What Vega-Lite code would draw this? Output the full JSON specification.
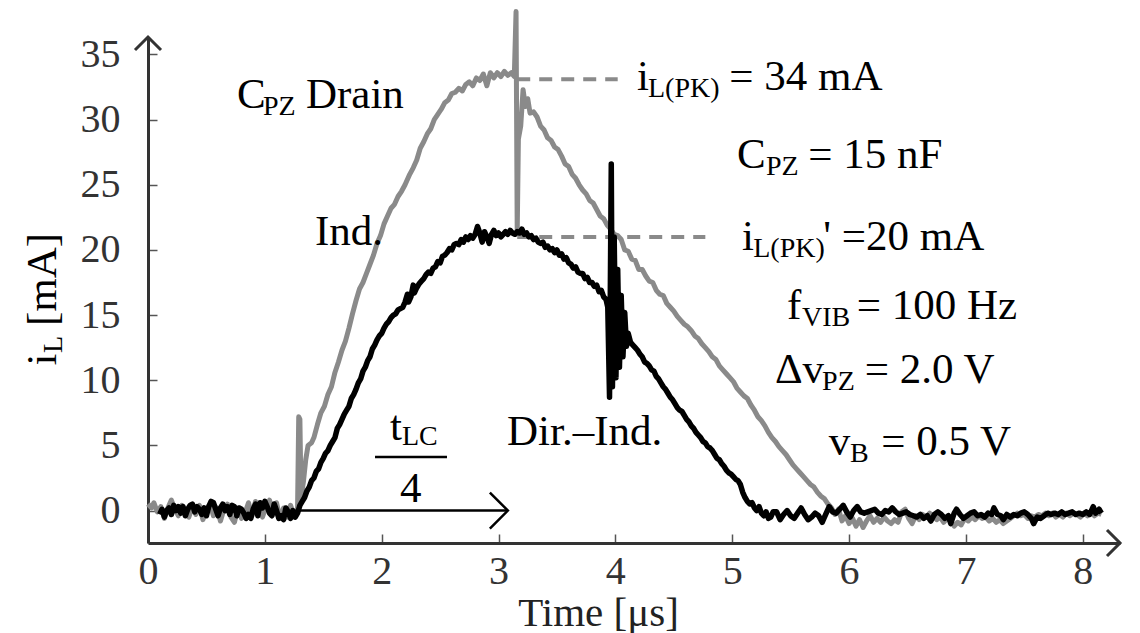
{
  "$schema": "https://vega.github.io/schema/vega-lite/v6.json",
  "width": 972,
  "height": 506,
  "autosize": {"type": "none"},
  "padding": {"left": 148, "top": 37, "right": 20, "bottom": 90},
  "background": "white",
  "config": {"view": {"stroke": null}, "font": "Liberation Serif"},
  "datasets": {
    "ind": [
      {"t":0.00,"v":0.5},{"t":0.03,"v":0.2},{"t":0.05,"v":0.6},{"t":0.08,"v":-0.1},{"t":0.11,"v":0.3},{"t":0.14,"v":-0.6},{"t":0.17,"v":0.2},{"t":0.20,"v":0.8},{"t":0.23,"v":0.1},{"t":0.26,"v":-0.4},{"t":0.29,"v":0.4},{"t":0.32,"v":-0.1},{"t":0.35,"v":-0.5},{"t":0.38,"v":0.3},{"t":0.41,"v":-0.3},{"t":0.44,"v":0.4},{"t":0.47,"v":-0.7},{"t":0.50,"v":0.1},{"t":0.53,"v":0.5},{"t":0.56,"v":-0.4},{"t":0.59,"v":0.2},{"t":0.62,"v":-0.8},{"t":0.65,"v":0.1},{"t":0.68,"v":0.5},{"t":0.71,"v":-0.5},{"t":0.74,"v":-0.9},{"t":0.77,"v":0.2},{"t":0.80,"v":-0.6},{"t":0.83,"v":-0.2},{"t":0.86,"v":0.6},{"t":0.89,"v":-0.4},{"t":0.92,"v":0.7},{"t":0.95,"v":0.0},{"t":0.98,"v":-0.5},{"t":1.01,"v":0.3},{"t":1.04,"v":0.8},{"t":1.07,"v":-0.3},{"t":1.10,"v":0.6},{"t":1.13,"v":-0.6},{"t":1.16,"v":0.2},{"t":1.19,"v":-0.5},{"t":1.22,"v":0.4},{"t":1.25,"v":-0.4},{"t":1.28,"v":0.2},{"t":1.29,"v":7.2},{"t":1.30,"v":7.0},{"t":1.31,"v":1.0},{"t":1.33,"v":2.2},{"t":1.35,"v":3.9},{"t":1.37,"v":5.0},{"t":1.40,"v":5.2},{"t":1.42,"v":5.6},{"t":1.45,"v":6.6},{"t":1.48,"v":7.5},{"t":1.51,"v":8.0},{"t":1.54,"v":8.9},{"t":1.57,"v":9.5},{"t":1.60,"v":10.6},{"t":1.63,"v":11.4},{"t":1.66,"v":12.3},{"t":1.69,"v":13.0},{"t":1.72,"v":14.0},{"t":1.75,"v":15.1},{"t":1.78,"v":16.1},{"t":1.81,"v":17.0},{"t":1.84,"v":17.5},{"t":1.87,"v":18.2},{"t":1.90,"v":18.9},{"t":1.93,"v":19.6},{"t":1.96,"v":20.5},{"t":1.99,"v":21.1},{"t":2.02,"v":22.0},{"t":2.05,"v":22.6},{"t":2.08,"v":23.2},{"t":2.11,"v":23.5},{"t":2.14,"v":24.1},{"t":2.17,"v":24.5},{"t":2.20,"v":25.0},{"t":2.24,"v":25.8},{"t":2.27,"v":26.3},{"t":2.30,"v":26.9},{"t":2.33,"v":27.8},{"t":2.36,"v":28.3},{"t":2.39,"v":28.9},{"t":2.42,"v":29.3},{"t":2.45,"v":30.0},{"t":2.48,"v":30.4},{"t":2.51,"v":30.8},{"t":2.54,"v":31.3},{"t":2.57,"v":31.5},{"t":2.60,"v":32.0},{"t":2.63,"v":32.1},{"t":2.66,"v":32.4},{"t":2.69,"v":32.2},{"t":2.72,"v":32.7},{"t":2.75,"v":32.9},{"t":2.78,"v":32.6},{"t":2.81,"v":33.2},{"t":2.84,"v":33.0},{"t":2.87,"v":33.5},{"t":2.90,"v":32.6},{"t":2.93,"v":33.6},{"t":2.96,"v":33.2},{"t":2.99,"v":33.6},{"t":3.02,"v":33.3},{"t":3.05,"v":33.7},{"t":3.08,"v":33.4},{"t":3.11,"v":33.6},{"t":3.135,"v":33.3},{"t":3.15,"v":38.3},{"t":3.16,"v":21.4},{"t":3.17,"v":28.5},{"t":3.19,"v":29.5},{"t":3.21,"v":32.3},{"t":3.23,"v":31.0},{"t":3.25,"v":31.6},{"t":3.27,"v":30.5},{"t":3.30,"v":30.6},{"t":3.33,"v":30.2},{"t":3.36,"v":29.5},{"t":3.39,"v":29.2},{"t":3.42,"v":28.6},{"t":3.45,"v":28.4},{"t":3.48,"v":27.9},{"t":3.51,"v":27.7},{"t":3.54,"v":27.2},{"t":3.57,"v":26.6},{"t":3.60,"v":26.4},{"t":3.63,"v":25.8},{"t":3.66,"v":25.5},{"t":3.69,"v":25.0},{"t":3.72,"v":24.6},{"t":3.75,"v":24.3},{"t":3.78,"v":23.8},{"t":3.81,"v":23.6},{"t":3.84,"v":23.1},{"t":3.87,"v":22.6},{"t":3.90,"v":22.4},{"t":3.93,"v":21.9},{"t":3.96,"v":21.6},{"t":3.99,"v":21.2},{"t":4.02,"v":21.1},{"t":4.05,"v":20.8},{"t":4.08,"v":20.0},{"t":4.11,"v":19.9},{"t":4.14,"v":19.3},{"t":4.17,"v":19.2},{"t":4.20,"v":18.5},{"t":4.23,"v":18.5},{"t":4.26,"v":18.0},{"t":4.29,"v":17.6},{"t":4.32,"v":17.5},{"t":4.35,"v":16.9},{"t":4.38,"v":16.6},{"t":4.41,"v":16.5},{"t":4.44,"v":15.9},{"t":4.47,"v":15.6},{"t":4.50,"v":15.3},{"t":4.53,"v":14.9},{"t":4.56,"v":14.6},{"t":4.59,"v":14.3},{"t":4.62,"v":14.1},{"t":4.65,"v":13.8},{"t":4.68,"v":13.4},{"t":4.71,"v":13.2},{"t":4.74,"v":12.8},{"t":4.77,"v":12.5},{"t":4.80,"v":12.2},{"t":4.83,"v":11.8},{"t":4.86,"v":11.6},{"t":4.89,"v":11.1},{"t":4.92,"v":10.8},{"t":4.95,"v":10.5},{"t":4.98,"v":10.2},{"t":5.01,"v":9.9},{"t":5.04,"v":9.4},{"t":5.07,"v":9.1},{"t":5.10,"v":8.8},{"t":5.13,"v":8.6},{"t":5.16,"v":8.1},{"t":5.19,"v":7.7},{"t":5.22,"v":7.2},{"t":5.25,"v":6.9},{"t":5.28,"v":6.5},{"t":5.31,"v":6.0},{"t":5.34,"v":5.6},{"t":5.37,"v":5.3},{"t":5.40,"v":4.9},{"t":5.43,"v":4.6},{"t":5.46,"v":4.3},{"t":5.49,"v":3.9},{"t":5.52,"v":3.5},{"t":5.55,"v":3.2},{"t":5.58,"v":2.9},{"t":5.61,"v":2.6},{"t":5.64,"v":2.3},{"t":5.67,"v":2.0},{"t":5.70,"v":1.8},{"t":5.73,"v":1.4},{"t":5.76,"v":1.1},{"t":5.79,"v":0.9},{"t":5.82,"v":0.5},{"t":5.85,"v":0.2},{"t":5.88,"v":-0.3},{"t":5.91,"v":0.1},{"t":5.94,"v":-0.8},{"t":5.97,"v":-0.4},{"t":6.00,"v":-1.0},{"t":6.03,"v":-0.6},{"t":6.06,"v":-1.2},{"t":6.09,"v":-0.7},{"t":6.12,"v":-1.3},{"t":6.15,"v":-0.8},{"t":6.18,"v":-0.4},{"t":6.21,"v":-0.9},{"t":6.24,"v":-0.6},{"t":6.27,"v":-0.9},{"t":6.30,"v":-0.5},{"t":6.33,"v":-0.8},{"t":6.36,"v":-1.0},{"t":6.39,"v":-0.7},{"t":6.42,"v":-0.9},{"t":6.45,"v":-0.1},{"t":6.48,"v":0.1},{"t":6.51,"v":-0.6},{"t":6.54,"v":-1.0},{"t":6.57,"v":-0.4},{"t":6.60,"v":-0.7},{"t":6.63,"v":-0.3},{"t":6.66,"v":-0.5},{"t":6.69,"v":-0.2},{"t":6.72,"v":-0.4},{"t":6.75,"v":-0.7},{"t":6.78,"v":-0.5},{"t":6.81,"v":-0.9},{"t":6.84,"v":-0.6},{"t":6.87,"v":-0.8},{"t":6.90,"v":-1.2},{"t":6.93,"v":-0.9},{"t":6.96,"v":-1.1},{"t":6.99,"v":-0.6},{"t":7.02,"v":-0.8},{"t":7.05,"v":-0.5},{"t":7.08,"v":-0.7},{"t":7.11,"v":-0.4},{"t":7.14,"v":-0.6},{"t":7.17,"v":-0.5},{"t":7.20,"v":-0.8},{"t":7.23,"v":-0.6},{"t":7.26,"v":-0.9},{"t":7.29,"v":-0.7},{"t":7.32,"v":-1.0},{"t":7.35,"v":-0.8},{"t":7.38,"v":-0.6},{"t":7.41,"v":-0.4},{"t":7.44,"v":-0.2},{"t":7.47,"v":-0.4},{"t":7.50,"v":-0.3},{"t":7.53,"v":-0.6},{"t":7.56,"v":-0.4},{"t":7.59,"v":-0.5},{"t":7.62,"v":-0.3},{"t":7.65,"v":-0.4},{"t":7.68,"v":-0.2},{"t":7.71,"v":-0.4},{"t":7.74,"v":-0.2},{"t":7.77,"v":-0.5},{"t":7.80,"v":-0.3},{"t":7.83,"v":-0.5},{"t":7.86,"v":-0.2},{"t":7.89,"v":-0.4},{"t":7.92,"v":-0.2},{"t":7.95,"v":-0.3},{"t":7.98,"v":-0.5},{"t":8.01,"v":-0.2},{"t":8.04,"v":-0.4},{"t":8.07,"v":-0.1},{"t":8.10,"v":-0.4},{"t":8.13,"v":-0.2},{"t":8.16,"v":-0.3}
    ],
    "dir": [
      {"t":0.10,"v":-0.3},{"t":0.12,"v":0.1},{"t":0.14,"v":-0.5},{"t":0.16,"v":0.0},{"t":0.18,"v":0.2},{"t":0.20,"v":-0.3},{"t":0.22,"v":0.4},{"t":0.24,"v":0.0},{"t":0.26,"v":0.3},{"t":0.28,"v":-0.2},{"t":0.30,"v":0.3},{"t":0.32,"v":-0.4},{"t":0.34,"v":0.1},{"t":0.36,"v":0.4},{"t":0.38,"v":0.5},{"t":0.40,"v":-0.1},{"t":0.42,"v":0.3},{"t":0.44,"v":0.1},{"t":0.46,"v":-0.3},{"t":0.48,"v":0.2},{"t":0.50,"v":-0.4},{"t":0.52,"v":0.3},{"t":0.54,"v":0.7},{"t":0.56,"v":0.6},{"t":0.58,"v":0.1},{"t":0.60,"v":-0.4},{"t":0.62,"v":0.2},{"t":0.64,"v":0.5},{"t":0.66,"v":0.0},{"t":0.68,"v":0.3},{"t":0.70,"v":-0.3},{"t":0.72,"v":0.4},{"t":0.74,"v":0.3},{"t":0.76,"v":-0.4},{"t":0.78,"v":0.2},{"t":0.80,"v":0.1},{"t":0.82,"v":-0.2},{"t":0.84,"v":-0.6},{"t":0.86,"v":-0.3},{"t":0.88,"v":-0.6},{"t":0.90,"v":0.1},{"t":0.92,"v":0.5},{"t":0.94,"v":-0.4},{"t":0.96,"v":0.6},{"t":0.98,"v":0.2},{"t":1.00,"v":0.7},{"t":1.02,"v":0.3},{"t":1.04,"v":-0.2},{"t":1.06,"v":-0.4},{"t":1.08,"v":0.5},{"t":1.10,"v":0.0},{"t":1.12,"v":-0.6},{"t":1.14,"v":-0.4},{"t":1.16,"v":-0.7},{"t":1.18,"v":0.2},{"t":1.20,"v":-0.1},{"t":1.22,"v":-0.6},{"t":1.24,"v":0.0},{"t":1.26,"v":-0.5},{"t":1.28,"v":-0.2},{"t":1.30,"v":0.4},{"t":1.32,"v":0.7},{"t":1.34,"v":1.0},{"t":1.36,"v":1.5},{"t":1.38,"v":1.8},{"t":1.40,"v":2.3},{"t":1.42,"v":2.5},{"t":1.44,"v":3.0},{"t":1.46,"v":3.2},{"t":1.48,"v":3.7},{"t":1.50,"v":4.0},{"t":1.52,"v":4.4},{"t":1.54,"v":4.6},{"t":1.56,"v":5.0},{"t":1.58,"v":5.3},{"t":1.60,"v":5.6},{"t":1.62,"v":6.3},{"t":1.64,"v":6.6},{"t":1.66,"v":7.0},{"t":1.68,"v":7.4},{"t":1.70,"v":7.7},{"t":1.72,"v":8.0},{"t":1.74,"v":8.6},{"t":1.76,"v":8.9},{"t":1.78,"v":9.3},{"t":1.80,"v":9.8},{"t":1.82,"v":10.1},{"t":1.84,"v":10.7},{"t":1.86,"v":11.0},{"t":1.88,"v":11.5},{"t":1.90,"v":11.8},{"t":1.92,"v":12.4},{"t":1.94,"v":12.7},{"t":1.96,"v":13.1},{"t":1.98,"v":13.4},{"t":2.00,"v":13.6},{"t":2.02,"v":14.0},{"t":2.04,"v":14.3},{"t":2.06,"v":14.5},{"t":2.08,"v":14.8},{"t":2.10,"v":15.0},{"t":2.12,"v":15.1},{"t":2.14,"v":15.4},{"t":2.16,"v":15.5},{"t":2.18,"v":15.6},{"t":2.20,"v":16.0},{"t":2.22,"v":16.6},{"t":2.23,"v":16.0},{"t":2.25,"v":16.4},{"t":2.27,"v":17.3},{"t":2.28,"v":16.7},{"t":2.30,"v":17.1},{"t":2.32,"v":17.4},{"t":2.34,"v":17.6},{"t":2.36,"v":17.8},{"t":2.38,"v":18.1},{"t":2.40,"v":18.3},{"t":2.42,"v":18.2},{"t":2.44,"v":18.6},{"t":2.46,"v":18.7},{"t":2.48,"v":19.1},{"t":2.50,"v":19.0},{"t":2.52,"v":19.5},{"t":2.54,"v":19.6},{"t":2.56,"v":19.8},{"t":2.58,"v":20.1},{"t":2.60,"v":20.0},{"t":2.62,"v":20.4},{"t":2.64,"v":20.5},{"t":2.66,"v":20.4},{"t":2.68,"v":20.8},{"t":2.70,"v":20.6},{"t":2.72,"v":21.0},{"t":2.74,"v":20.8},{"t":2.76,"v":21.1},{"t":2.78,"v":20.9},{"t":2.80,"v":21.2},{"t":2.82,"v":21.8},{"t":2.84,"v":21.3},{"t":2.86,"v":20.6},{"t":2.88,"v":21.4},{"t":2.90,"v":21.0},{"t":2.92,"v":20.5},{"t":2.94,"v":21.2},{"t":2.96,"v":21.5},{"t":2.98,"v":21.1},{"t":3.00,"v":21.3},{"t":3.02,"v":21.0},{"t":3.04,"v":21.2},{"t":3.06,"v":21.4},{"t":3.08,"v":21.2},{"t":3.10,"v":21.5},{"t":3.12,"v":21.3},{"t":3.14,"v":21.2},{"t":3.16,"v":21.4},{"t":3.18,"v":21.3},{"t":3.20,"v":21.6},{"t":3.22,"v":21.2},{"t":3.24,"v":21.3},{"t":3.26,"v":21.0},{"t":3.28,"v":21.1},{"t":3.30,"v":20.8},{"t":3.32,"v":20.9},{"t":3.34,"v":20.6},{"t":3.36,"v":20.5},{"t":3.38,"v":20.6},{"t":3.40,"v":20.2},{"t":3.42,"v":20.3},{"t":3.44,"v":20.0},{"t":3.46,"v":20.1},{"t":3.48,"v":19.8},{"t":3.50,"v":20.0},{"t":3.52,"v":19.6},{"t":3.54,"v":19.7},{"t":3.56,"v":19.3},{"t":3.58,"v":19.4},{"t":3.60,"v":19.0},{"t":3.62,"v":18.9},{"t":3.64,"v":18.6},{"t":3.66,"v":18.7},{"t":3.68,"v":18.3},{"t":3.70,"v":18.2},{"t":3.72,"v":18.2},{"t":3.74,"v":17.8},{"t":3.76,"v":17.9},{"t":3.78,"v":17.5},{"t":3.80,"v":17.5},{"t":3.82,"v":17.2},{"t":3.84,"v":17.3},{"t":3.86,"v":16.8},{"t":3.88,"v":16.9},{"t":3.90,"v":16.4},{"t":3.92,"v":16.2},{"t":3.935,"v":15.6},{"t":3.95,"v":8.7},{"t":3.965,"v":26.6},{"t":3.975,"v":9.5},{"t":3.99,"v":21.0},{"t":4.005,"v":10.2},{"t":4.02,"v":18.5},{"t":4.035,"v":11.0},{"t":4.05,"v":16.5},{"t":4.065,"v":11.8},{"t":4.08,"v":15.2},{"t":4.095,"v":12.6},{"t":4.11,"v":13.6},{"t":4.13,"v":12.9},{"t":4.15,"v":12.7},{"t":4.17,"v":12.5},{"t":4.19,"v":12.3},{"t":4.21,"v":12.0},{"t":4.23,"v":11.8},{"t":4.25,"v":11.4},{"t":4.27,"v":11.3},{"t":4.29,"v":11.1},{"t":4.31,"v":10.8},{"t":4.33,"v":10.7},{"t":4.35,"v":10.3},{"t":4.37,"v":10.1},{"t":4.39,"v":9.8},{"t":4.41,"v":9.5},{"t":4.43,"v":9.3},{"t":4.45,"v":9.0},{"t":4.47,"v":8.7},{"t":4.49,"v":8.5},{"t":4.51,"v":8.2},{"t":4.53,"v":7.9},{"t":4.55,"v":7.7},{"t":4.57,"v":7.6},{"t":4.59,"v":7.3},{"t":4.61,"v":7.0},{"t":4.63,"v":6.8},{"t":4.65,"v":6.5},{"t":4.67,"v":6.3},{"t":4.69,"v":6.0},{"t":4.71,"v":5.8},{"t":4.73,"v":5.6},{"t":4.75,"v":5.3},{"t":4.77,"v":5.2},{"t":4.79,"v":4.9},{"t":4.81,"v":4.8},{"t":4.83,"v":4.6},{"t":4.85,"v":4.3},{"t":4.87,"v":4.0},{"t":4.89,"v":3.9},{"t":4.91,"v":3.6},{"t":4.93,"v":3.4},{"t":4.95,"v":3.1},{"t":4.97,"v":2.9},{"t":4.99,"v":2.8},{"t":5.01,"v":2.6},{"t":5.03,"v":2.4},{"t":5.05,"v":2.3},{"t":5.07,"v":2.0},{"t":5.09,"v":1.4},{"t":5.11,"v":1.0},{"t":5.13,"v":0.7},{"t":5.15,"v":0.5},{"t":5.17,"v":0.6},{"t":5.19,"v":0.2},{"t":5.21,"v":0.0},{"t":5.23,"v":0.3},{"t":5.25,"v":-0.2},{"t":5.27,"v":-0.4},{"t":5.29,"v":-0.1},{"t":5.31,"v":-0.6},{"t":5.33,"v":-0.5},{"t":5.35,"v":-0.1},{"t":5.38,"v":-0.1},{"t":5.41,"v":-0.7},{"t":5.44,"v":-0.3},{"t":5.47,"v":0.0},{"t":5.50,"v":-0.4},{"t":5.53,"v":-0.6},{"t":5.56,"v":-0.2},{"t":5.59,"v":0.2},{"t":5.62,"v":-0.3},{"t":5.65,"v":-0.7},{"t":5.68,"v":-0.5},{"t":5.71,"v":-0.2},{"t":5.74,"v":-0.4},{"t":5.77,"v":-0.9},{"t":5.80,"v":-0.3},{"t":5.83,"v":0.3},{"t":5.86,"v":-0.1},{"t":5.89,"v":-0.2},{"t":5.92,"v":0.1},{"t":5.95,"v":0.4},{"t":5.98,"v":-0.1},{"t":6.01,"v":-0.5},{"t":6.04,"v":0.0},{"t":6.07,"v":0.3},{"t":6.10,"v":-0.1},{"t":6.13,"v":-0.2},{"t":6.16,"v":-0.1},{"t":6.19,"v":0.0},{"t":6.22,"v":0.1},{"t":6.25,"v":-0.2},{"t":6.28,"v":-0.3},{"t":6.31,"v":0.0},{"t":6.34,"v":-0.1},{"t":6.37,"v":0.2},{"t":6.40,"v":-0.1},{"t":6.43,"v":-0.3},{"t":6.46,"v":-0.2},{"t":6.49,"v":-0.1},{"t":6.52,"v":-0.3},{"t":6.55,"v":-0.4},{"t":6.58,"v":-0.5},{"t":6.61,"v":-0.3},{"t":6.64,"v":-0.6},{"t":6.67,"v":-0.4},{"t":6.70,"v":-0.8},{"t":6.73,"v":-0.3},{"t":6.76,"v":-0.1},{"t":6.79,"v":-0.3},{"t":6.82,"v":-0.6},{"t":6.85,"v":-0.4},{"t":6.87,"v":-1.0},{"t":6.90,"v":-0.2},{"t":6.92,"v":0.1},{"t":6.95,"v":-0.3},{"t":6.98,"v":-0.6},{"t":7.01,"v":-0.4},{"t":7.04,"v":-0.2},{"t":7.07,"v":-0.1},{"t":7.10,"v":-0.4},{"t":7.13,"v":-0.3},{"t":7.16,"v":-0.5},{"t":7.19,"v":-0.2},{"t":7.22,"v":-0.3},{"t":7.24,"v":0.2},{"t":7.27,"v":-0.3},{"t":7.30,"v":-0.4},{"t":7.32,"v":-0.7},{"t":7.35,"v":-0.3},{"t":7.38,"v":-0.5},{"t":7.41,"v":-0.3},{"t":7.44,"v":-0.4},{"t":7.47,"v":-0.2},{"t":7.50,"v":-0.1},{"t":7.53,"v":-0.3},{"t":7.56,"v":-0.6},{"t":7.58,"v":-1.0},{"t":7.61,"v":-0.5},{"t":7.64,"v":-0.6},{"t":7.67,"v":-0.4},{"t":7.70,"v":-0.2},{"t":7.73,"v":-0.3},{"t":7.76,"v":-0.2},{"t":7.79,"v":-0.3},{"t":7.82,"v":-0.1},{"t":7.85,"v":-0.3},{"t":7.88,"v":-0.2},{"t":7.91,"v":-0.1},{"t":7.94,"v":-0.3},{"t":7.97,"v":-0.2},{"t":8.00,"v":-0.3},{"t":8.03,"v":-0.1},{"t":8.06,"v":-0.3},{"t":8.09,"v":0.3},{"t":8.11,"v":-0.2},{"t":8.14,"v":0.1},{"t":8.16,"v":-0.2}
    ],
    "dashes": [
      {"t":3.16,"t2":4.02,"v":33.1},
      {"t":3.16,"t2":4.77,"v":21.0}
    ],
    "tlcArrow": [{"t":1.30,"t2":3.08,"v":0.0}],
    "tlcHead": [{"t":3.08,"v":0.0}],
    "fracBar": [{"t":1.943,"t2":2.559,"v":4.106}],
    "xEnd": [{"t":8.319,"v":-2.49}],
    "yEnd": [{"t":0,"v":36.34}],
    "mainText": [
      {"t":0.762,"v":30.89,"label":"C"},
      {"t":1.352,"v":30.89,"label":"Drain"},
      {"t":1.429,"v":20.38,"label":"Ind."},
      {"t":3.073,"v":5.03,"label":"Dir.–Ind."},
      {"t":4.185,"v":32.27,"label":"i"},
      {"t":4.975,"v":32.27,"label":"= 34 mA"},
      {"t":5.041,"v":26.28,"label":"C"},
      {"t":5.650,"v":26.28,"label":"= 15 nF"},
      {"t":5.084,"v":19.99,"label":"i"},
      {"t":5.780,"v":19.99,"label":"' =20 mA"},
      {"t":5.469,"v":14.70,"label":"f"},
      {"t":6.065,"v":14.70,"label":"= 100 Hz"},
      {"t":5.366,"v":9.79,"label":"Δv"},
      {"t":6.135,"v":9.79,"label":"= 2.0 V"},
      {"t":5.827,"v":4.26,"label":"v"},
      {"t":6.275,"v":4.26,"label":"= 0.5 V"},
      {"t":2.071,"v":5.41,"label":"t"},
      {"t":2.157,"v":0.65,"label":"4"}
    ],
    "subText": [
      {"t":0.984,"v":30.35,"label":"PZ"},
      {"t":4.279,"v":31.74,"label":"L(PK)"},
      {"t":5.289,"v":25.75,"label":"PZ"},
      {"t":5.180,"v":19.46,"label":"L(PK)"},
      {"t":5.597,"v":14.16,"label":"VIB"},
      {"t":5.769,"v":9.25,"label":"PZ"},
      {"t":6.008,"v":3.72,"label":"B"},
      {"t":2.174,"v":5.03,"label":"LC"}
    ],
    "yTitleMain": [
      {"t":-0.787,"v":11.13,"label":"i"},
      {"t":-0.787,"v":14.16,"label":"[mA]"}
    ],
    "yTitleSub": [
      {"t":-0.736,"v":12.09,"label":"L"}
    ]
  },
  "encoding": {
    "x": {
      "field": "t", "type": "quantitative",
      "scale": {"domain": [0, 8.319], "nice": false, "zero": false},
      "axis": {
        "values": [0,1,2,3,4,5,6,7,8], "format": "d", "grid": false,
        "tickSize": -9, "tickColor": "#555555", "tickWidth": 1.5,
        "domainColor": "#333333", "domainWidth": 3,
        "labelFont": "Liberation Serif", "labelFontSize": 40, "labelColor": "#333333",
        "labelPadding": 17, "labelFlush": false, "labelOverlap": false,
        "title": "Time [μs]", "titleFont": "Liberation Serif", "titleFontSize": 41,
        "titleFontWeight": "normal", "titleColor": "#222222",
        "titleX": 450, "titleY": 82, "titleAlign": "center", "titleBaseline": "alphabetic"
      }
    },
    "y": {
      "field": "v", "type": "quantitative",
      "scale": {"domain": [-2.49, 36.34], "nice": false, "zero": false},
      "axis": {
        "values": [0,5,10,15,20,25,30,35], "format": "d", "grid": false,
        "tickSize": -9, "tickColor": "#555555", "tickWidth": 1.5,
        "domainColor": "#333333", "domainWidth": 3,
        "labelFont": "Liberation Serif", "labelFontSize": 40, "labelColor": "#333333",
        "labelPadding": 37, "labelFlush": false, "labelOverlap": false,
        "title": null
      }
    }
  },
  "layer": [
    {"data": {"name": "ind"}, "mark": {"type": "line", "color": "#8a8a8a", "strokeWidth": 5, "strokeJoin": "round", "clip": false}},
    {"data": {"name": "dashes"}, "mark": {"type": "rule", "color": "#8a8a8a", "strokeWidth": 4, "strokeDash": [13, 9]}, "encoding": {"x2": {"field": "t2"}}},
    {"data": {"name": "dir"}, "mark": {"type": "line", "color": "#000000", "strokeWidth": 5.5, "strokeJoin": "round", "clip": false}},
    {"data": {"name": "tlcArrow"}, "mark": {"type": "rule", "color": "#000000", "strokeWidth": 2.5}, "encoding": {"x2": {"field": "t2"}}},
    {"data": {"name": "tlcHead"}, "mark": {"type": "point", "shape": "M -1 -1 L 0 0 L -1 1", "size": 1296, "filled": false, "color": "#000000", "strokeWidth": 2.5, "opacity": 1}},
    {"data": {"name": "fracBar"}, "mark": {"type": "rule", "color": "#000000", "strokeWidth": 2.5}, "encoding": {"x2": {"field": "t2"}}},
    {"data": {"name": "xEnd"}, "mark": {"type": "point", "shape": "M -1 -1 L 0 0 L -1 1", "size": 676, "filled": false, "color": "#333333", "strokeWidth": 3, "opacity": 1}},
    {"data": {"name": "yEnd"}, "mark": {"type": "point", "shape": "M -1 -1 L 0 0 L -1 1", "size": 676, "filled": false, "color": "#333333", "strokeWidth": 3, "opacity": 1, "angle": 270}},
    {"data": {"name": "mainText"}, "mark": {"type": "text", "align": "left", "baseline": "alphabetic", "font": "Liberation Serif", "fontSize": 43, "color": "#000000"}, "encoding": {"text": {"field": "label"}}},
    {"data": {"name": "subText"}, "mark": {"type": "text", "align": "left", "baseline": "alphabetic", "font": "Liberation Serif", "fontSize": 28, "color": "#000000"}, "encoding": {"text": {"field": "label"}}},
    {"data": {"name": "yTitleMain"}, "mark": {"type": "text", "align": "left", "baseline": "alphabetic", "font": "Liberation Serif", "fontSize": 43, "color": "#000000", "angle": 270}, "encoding": {"text": {"field": "label"}}},
    {"data": {"name": "yTitleSub"}, "mark": {"type": "text", "align": "left", "baseline": "alphabetic", "font": "Liberation Serif", "fontSize": 28, "color": "#000000", "angle": 270}, "encoding": {"text": {"field": "label"}}}
  ]
}
